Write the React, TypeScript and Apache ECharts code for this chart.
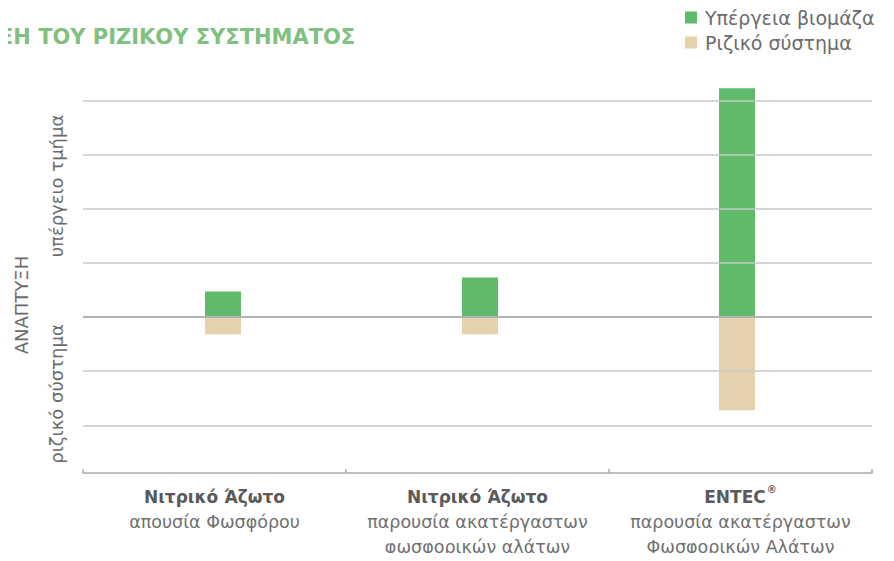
import React, { useEffect, useRef } from "react";
import * as echarts from "echarts";

const categoryTitles = ["Νιτρικό Άζωτο", "Νιτρικό Άζωτο", "ENTEC"];
const categorySubtitles = [
  ["απουσία Φωσφόρου"],
  ["παρουσία ακατέργαστων", "φωσφορικών αλάτων"],
  ["παρουσία ακατέργαστων", "Φωσφορικών Αλάτων"],
];
const categoryMarks = ["", "", "®"];
const seriesNames = ["Υπέργεια βιομάζα", "Ριζικό σύστημα"];
const shootValues = [0.47, 0.73, 4.22];
const rootValues = [-0.32, -0.32, -1.72];
const gridValues = [-2, -1, 1, 2, 3, 4];
const zeroValue = 0;
const titleText = "ΞΗ ΤΟΥ ΡΙΖΙΚΟΥ ΣΥΣΤΗΜΑΤΟΣ";
const yLabelUpper = "υπέργειο τμήμα";
const yLabelLower = "ριζικό σύστημα";
const yLabelMain = "ΑΝΑΠΤΥΞΗ";

const FONT = "'DejaVu Sans', 'Liberation Sans', Arial, sans-serif";
const Y_MIN = -2.88;
const Y_MAX = 4.3;

export default function App() {
  const ref = useRef<HTMLDivElement>(null);
  useEffect(() => {
    if (!ref.current) return;
    const chart = echarts.init(ref.current, undefined, { renderer: "svg" });
    const cats = categoryTitles.map((t, i) => String(i));
    chart.setOption({
      animation: false,
      textStyle: { fontFamily: FONT },
      grid: [
        { left: 83, right: 22, top: 84, bottom: 88, containLabel: false },
        { left: 94.5, right: 28.5, top: 84, bottom: 88, containLabel: false },
      ],
      legend: {
        data: seriesNames,
        orient: "vertical",
        left: 680,
        top: 3,
        icon: "rect",
        itemWidth: 12,
        itemHeight: 12,
        itemGap: 6,
        textStyle: { fontSize: 19, color: "#6b6b6b", fontFamily: FONT, padding: [0, 0, 0, 3] },
      },
      graphic: [
        {
          type: "text",
          x: 0,
          y: 37,
          style: {
            text: titleText,
            font: `bold 21px ${FONT}`,
            fill: "#80c080",
            textAlign: "left",
            textVerticalAlign: "middle",
          },
        },
        {
          type: "text",
          x: 56,
          y: 186,
          rotation: Math.PI / 2,
          style: {
            text: yLabelUpper,
            font: `18px ${FONT}`,
            fill: "#6b6b6b",
            textAlign: "center",
            textVerticalAlign: "middle",
          },
        },
        {
          type: "text",
          x: 56,
          y: 394,
          rotation: Math.PI / 2,
          style: {
            text: yLabelLower,
            font: `18px ${FONT}`,
            fill: "#6b6b6b",
            textAlign: "center",
            textVerticalAlign: "middle",
          },
        },
        {
          type: "text",
          x: 21,
          y: 305,
          rotation: Math.PI / 2,
          style: {
            text: yLabelMain,
            font: `18px ${FONT}`,
            fill: "#6b6b6b",
            textAlign: "center",
            textVerticalAlign: "middle",
          },
        },
      ],
      xAxis: [
        {
          type: "category",
          gridIndex: 0,
          data: cats,
          boundaryGap: true,
          axisLine: { onZero: false, lineStyle: { color: "#aaaaaa", width: 1.5 } },
          axisTick: { show: true, inside: true, length: 4, alignWithLabel: false, lineStyle: { color: "#aaaaaa", width: 1.5 } },
          axisLabel: {
            interval: 0,
            margin: 11,
            formatter: (v: string) => {
              const i = Number(v);
              const mark = categoryMarks[i] ? `{sup|${categoryMarks[i]}}` : "";
              const subs = categorySubtitles[i].map((s) => `{n|${s}}`).join("\n");
              return `{b|${categoryTitles[i]}}${mark}\n${subs}`;
            },
            rich: {
              b: { fontSize: 17, fontWeight: "bold", color: "#5a5a5a", lineHeight: 25, fontFamily: FONT },
              sup: { fontSize: 10, fontWeight: "bold", color: "#5a5a5a", lineHeight: 25, verticalAlign: "top", padding: [0, 0, 3, 1], fontFamily: FONT },
              n: { fontSize: 17.5, color: "#707070", lineHeight: 25, fontFamily: FONT },
            },
          },
          splitLine: { show: false },
        },
        {
          type: "category",
          gridIndex: 1,
          data: cats,
          boundaryGap: true,
          show: false,
        },
      ],
      yAxis: [
        {
          type: "value",
          gridIndex: 0,
          min: Y_MIN,
          max: Y_MAX,
          axisLine: { show: false },
          axisTick: { show: false },
          axisLabel: { show: false },
          splitLine: { show: false },
        },
        {
          type: "value",
          gridIndex: 1,
          min: Y_MIN,
          max: Y_MAX,
          show: false,
          splitLine: { show: false },
        },
      ],
      series: [
        {
          type: "line",
          xAxisIndex: 0,
          yAxisIndex: 0,
          data: [],
          z: 1,
          silent: true,
          markLine: {
            silent: true,
            symbol: "none",
            label: { show: false },
            data: [
              ...gridValues.map((v) => ({ yAxis: v, lineStyle: { color: "#c8c8c8", width: 1.5, type: "solid" } })),
              { yAxis: zeroValue, lineStyle: { color: "#b2b2b2", width: 2, type: "solid" } },
            ],
          },
        },
        {
          name: seriesNames[0],
          type: "bar",
          xAxisIndex: 1,
          yAxisIndex: 1,
          data: shootValues,
          barWidth: 36,
          barGap: "-100%",
          z: 3,
          itemStyle: { color: "#5fbb6a" },
        },
        {
          name: seriesNames[1],
          type: "bar",
          xAxisIndex: 1,
          yAxisIndex: 1,
          data: rootValues,
          barWidth: 36,
          z: 3,
          itemStyle: { color: "#e5d1ab" },
        },
      ],
    });
    return () => chart.dispose();
  }, []);
  return <div ref={ref} style={{ width: 894, height: 561, margin: -8 }} />;
}
